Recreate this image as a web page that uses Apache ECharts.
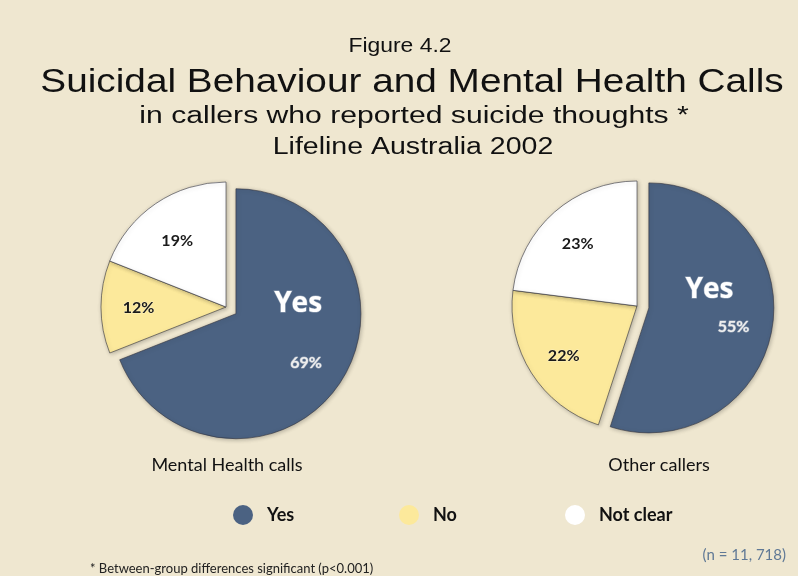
<!DOCTYPE html>
<html>
<head>
<meta charset="utf-8">
<script src="https://cdn.jsdelivr.net/npm/echarts@6/dist/echarts.min.js"></script>
<style>
  html, body { margin: 0; padding: 0; background: #efe7d0; }
  #chart { width: 798px; height: 576px; }
</style>
</head>
<body>
<div id="chart"></div>
<script>
const categories = ['Yes', 'No', 'Not clear'];
const mentalHealthCalls = [69, 12, 19];
const otherCallers = [55, 22, 23];
const pieNames = ['Mental Health calls', 'Other callers'];
const sliceColors = ['#4b6282', '#fce99b', '#ffffff'];

// label nudges per slice (Yes, No, Not clear)
const leftOffsets = [[8, -18], [-22, 1], [-12, -12]];
const rightOffsets = [[-4, -10], [-18, 15], [-16, -13]];

const titleFont = '"Liberation Sans", Arial, sans-serif';
const gillFont = 'Lato, "Open Sans", sans-serif';

const myChart = echarts.init(document.getElementById('chart'));

const buildData = (values, offsets, yesPad, yesLh) =>
  categories.map((name, i) => {
    const item = {
      name,
      value: values[i],
      itemStyle: { color: sliceColors[i] },
      label: { offset: offsets[i] },
    };
    if (i === 0) {
      item.selected = true;
      // the pulled-out slice is drawn in its select state, so the nudge goes there too
      item.select = { label: { offset: offsets[i] } };
      item.label.formatter = '{yes|Yes}\n{pct|{c}%}';
      item.label.rich = {
        yes: { fontSize: 28, fontWeight: 'bold', color: '#ffffff', fontFamily: '"Open Sans", Lato, sans-serif', lineHeight: yesLh[0] },
        pct: { fontSize: 16, color: '#eeeeee', fontFamily: gillFont, lineHeight: yesLh[1], padding: [0, 0, 0, yesPad] },
      };
    }
    return item;
  });

const pieSeries = (name, center, data) => ({
  type: 'pie',
  name,
  center,
  radius: 125,
  startAngle: 90,
  clockwise: true,
  selectedMode: 'single',
  selectedOffset: 12,
  animation: false,
  emphasis: { disabled: true },
  itemStyle: {
    borderColor: 'rgba(50,50,60,0.6)',
    borderWidth: 1,
    shadowBlur: 4,
    shadowColor: 'rgba(0,0,0,0.25)',
    shadowOffsetX: 1,
    shadowOffsetY: 1,
  },
  label: {
    show: true,
    position: 'inside',
    formatter: '{c}%',
    fontFamily: gillFont,
    fontSize: 16,
    fontWeight: 'bold',
    color: '#1a1a1a',
    textBorderColor: 'rgba(255,255,255,0.4)',
    textBorderWidth: 1,
  },
  labelLine: { show: false },
  data,
});

const legendBase = {
  orient: 'horizontal',
  top: 500,
  icon: 'circle',
  itemWidth: 38,
  itemHeight: 20,
  selectedMode: false,
  itemStyle: { borderWidth: 0, shadowBlur: 0 },
  textStyle: { fontSize: 18, fontWeight: 'bold', color: '#111111', fontFamily: gillFont },
};

// static texts; scaleX widens the Helvetica-like title lines to the original's tracking
const text = (x, y, str, size, opts = {}) => ({
  type: 'text',
  x,
  y,
  scaleX: opts.scaleX || 1,
  style: {
    x: 0,
    y: 0,
    text: str,
    fontSize: size,
    fontFamily: opts.font || titleFont,
    fill: opts.color || '#111',
    textAlign: opts.align || 'center',
    textVerticalAlign: 'middle',
  },
});

const option = {
  backgroundColor: '#efe7d0',
  animation: false,
  legend: [
    { ...legendBase, left: 228, data: [categories[0]] },
    { ...legendBase, left: 394, data: [categories[1]] },
    { ...legendBase, left: 560, data: [categories[2]] },
  ],
  graphic: [
    text(400, 46, 'Figure 4.2', 21, { scaleX: 1.09 }),
    text(412, 83, 'Suicidal Behaviour and Mental Health Calls', 34, { scaleX: 1.14 }),
    text(414, 117, 'in callers who reported suicide thoughts *', 23, { scaleX: 1.31 }),
    text(413, 148, 'Lifeline Australia 2002', 23, { scaleX: 1.24 }),
    text(227, 465, pieNames[0], 18, { font: gillFont }),
    text(659, 465, pieNames[1], 18, { font: gillFont }),
    text(90, 569, '* Between-group differences significant (p<0.001)', 13, { font: gillFont, align: 'left', color: '#222' }),
    text(786, 555, '(n = 11, 718)', 15, { font: gillFont, align: 'right', color: '#5f7895' }),
  ],
  series: [
    pieSeries(pieNames[0], [226, 307], buildData(mentalHealthCalls, leftOffsets, 16, [60, 58])),
    pieSeries(pieNames[1], [637, 306], buildData(otherCallers, rightOffsets, 48, [38, 36])),
  ],
};

myChart.setOption(option);
window.addEventListener('resize', () => myChart.resize());
</script>
</body>
</html>
